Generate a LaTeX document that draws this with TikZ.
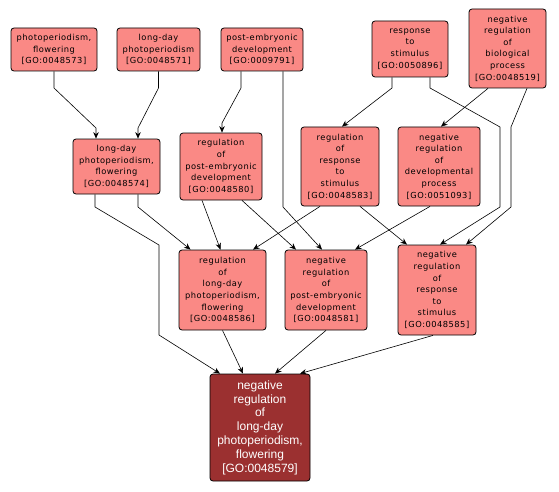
\documentclass[tikz,border=0pt]{standalone}
\usepackage{fontspec}
\newfontfamily\nodefont{DejaVu Sans}[LetterSpace=6]
\newfontfamily\targetfont{Liberation Sans}
\usetikzlibrary{arrows.meta,calc}
\definecolor{termfill}{RGB}{250,137,133}
\definecolor{targetfill}{RGB}{155,48,48}
\tikzset{
  term/.style={draw=black, line width=0.8pt, rounded corners=3pt, fill=termfill,
    align=center, inner sep=0pt, anchor=center,
    font=\nodefont\fontsize{8.3}{11.6}\selectfont, text=black},
  target/.style={term, fill=targetfill, text=white,
    font=\targetfont\fontsize{12}{13.8}\selectfont},
  edge/.style={draw=black, line width=0.6pt, -{Stealth[length=6.5pt,width=5.5pt]}}
}
\begin{document}
\begin{tikzpicture}[x=1pt,y=-1pt]
\useasboundingbox (0,0) rectangle (559,492);
% nodes
\node[term, minimum width=86pt, minimum height=43pt] (A) at (54,49.5) {photoperiodism,\\flowering\\{[GO:0048573]}};
\node[term, minimum width=83pt, minimum height=43pt] (B) at (158.5,49.5) {long-day\\photoperiodism\\{[GO:0048571]}};
\node[term, minimum width=82pt, minimum height=43pt] (C) at (262,49.5) {post-embryonic\\development\\{[GO:0009791]}};
\node[term, minimum width=76pt, minimum height=56pt] (D) at (410,49) {response\\to\\stimulus\\{[GO:0050896]}};
\node[term, minimum width=77pt, minimum height=79pt] (E) at (507.5,48.5) {negative\\regulation\\of\\biological\\process\\{[GO:0048519]}};
\node[term, minimum width=87pt, minimum height=55pt] (F) at (116.5,166.5) {long-day\\photoperiodism,\\flowering\\{[GO:0048574]}};
\node[term, minimum width=82pt, minimum height=67pt] (G) at (221,166.5) {regulation\\of\\post-embryonic\\development\\{[GO:0048580]}};
\node[term, minimum width=78pt, minimum height=79pt] (H) at (340,166.5) {regulation\\of\\response\\to\\stimulus\\{[GO:0048583]}};
\node[term, minimum width=82pt, minimum height=79pt] (I) at (439,166.5) {negative\\regulation\\of\\developmental\\process\\{[GO:0051093]}};
\node[term, minimum width=87pt, minimum height=80pt] (J) at (222.5,290) {regulation\\of\\long-day\\photoperiodism,\\flowering\\{[GO:0048586]}};
\node[term, minimum width=82pt, minimum height=80pt] (K) at (326,290) {negative\\regulation\\of\\post-embryonic\\development\\{[GO:0048581]}};
\node[term, minimum width=78pt, minimum height=90pt] (L) at (437,290) {negative\\regulation\\of\\response\\to\\stimulus\\{[GO:0048585]}};
\node[target, minimum width=100pt, minimum height=107pt] (M) at (260,427.5) {negative\\regulation\\of\\long-day\\photoperiodism,\\flowering\\{[GO:0048579]}};
% edges
\draw[edge] (A.south) -- (54,88) -- (96,128) -- ($(F.north)+(-20.5,0)$);
\draw[edge] (B.south) -- (158.5,88) -- (138,128) -- ($(F.north)+(21.5,0)$);
\draw[edge] ($(C.south)+(-21,0)$) -- (241,88) -- (222,123) -- ($(G.north)+(1,0)$);
\draw[edge] ($(C.south)+(21,0)$) -- (283,207) -- ($(K.north)+(-4,0)$);
\draw[edge] ($(D.south)+(-18,0)$) -- (392,88) -- ($(H.north)+(2,0)$);
\draw[edge] ($(D.south)+(20,0)$) -- (430,88) -- (500,127) -- (500,207) -- ($(L.north)+(3,0)$);
\draw[edge] ($(E.south)+(-19.5,0)$) -- ($(I.north)+(2,0)$);
\draw[edge] ($(E.south)+(19.5,0)$) -- (511,127) -- (511,207) -- ($(L.north)+(29,0)$);
\draw[edge] ($(F.south)+(21.5,0)$) -- (138,207) -- ($(J.north)+(-32,0)$);
\draw[edge] ($(F.south)+(-21.5,0)$) -- (95,207) -- (159,245) -- (159,335) -- ($(M.north)+(-40,0)$);
\draw[edge] ($(G.south)+(-19,0)$) -- ($(J.north)+(-2,0)$);
\draw[edge] ($(G.south)+(21,0)$) -- ($(K.north)+(-30,0)$);
\draw[edge] ($(H.south)+(-20,0)$) -- ($(J.north)+(30.5,0)$);
\draw[edge] ($(H.south)+(20,0)$) -- ($(L.north)+(-30,0)$);
\draw[edge] ($(I.south)+(-9,0)$) -- ($(K.north)+(29,0)$);
\draw[edge] (J.south) -- ($(M.north)+(-17,0)$);
\draw[edge] (K.south) -- ($(M.north)+(15,0)$);
\draw[edge] ($(L.south)+(-4,0)$) -- ($(M.north)+(40,0)$);
\end{tikzpicture}
\end{document}
